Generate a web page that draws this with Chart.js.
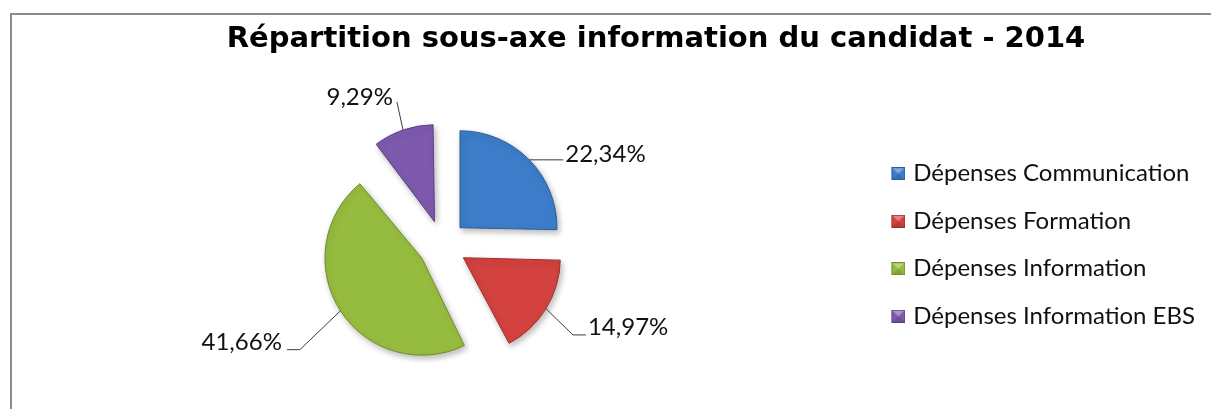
<!DOCTYPE html>
<html>
<head>
<meta charset="utf-8">
<script src="https://cdn.jsdelivr.net/npm/chart.js@4.4.1/dist/chart.umd.min.js"></script>
<style>
  html, body { margin: 0; padding: 0; background: #ffffff; overflow: hidden; width: 1211px; height: 409px; }
  #frame { position: absolute; left: 10px; top: 13px; width: 1300px; height: 500px;
           border-left: 2px solid #8c8c8c; border-top: 2px solid #8c8c8c; box-sizing: border-box; }
  #c { position: absolute; left: 0; top: 0; }
</style>
</head>
<body>
<div id="frame"></div>
<canvas id="c" width="1211" height="409"></canvas>
<script>
// ---- data ----
const titleText = 'Répartition sous-axe information du candidat - 2014';
const categories = ['Dépenses Communication', 'Dépenses Formation', 'Dépenses Information', 'Dépenses Information EBS'];
const values = [22.34, 14.97, 41.66, 9.29];
const valueLabels = ['22,34%', '14,97%', '41,66%', '9,29%'];

// ---- styles ----
const sliceColors = ['#3d7cc9', '#d4423f', '#96bc3f', '#7e5aae'];
const sliceBorders = ['#2d5e9c', '#9e2f2c', '#6f8d2c', '#5c4086'];
// leader label placement: elbow turn (deg), radial extension, horizontal leader, text gap, baseline shift
const labelLayout = [
  { turn: 0,   ext: 0,    h: 34, dx: 2, dy: 2 },
  { turn: 3.5, ext: 37,   h: 13, dx: 2, dy: 0 },
  { turn: -4,  ext: 55.5, h: 13, dx: 5, dy: 0 },
  { turn: 1.5, ext: 28.5, h: 0,  dx: 4, dy: 3 }
];
const labelFontSize = 24;
const labelFamily = 'Lato';
const legendPad = 23.5;

// ---- layout targets (page geometry of the reference) ----
const W = 1211;
const titleCenterX = 656, legendTextEndX = 1195, pieCenterX = 442.5;
const padRight = W - legendTextEndX - 10;
const padLeft = 2 * titleCenterX - (W - padRight);
const legendWidth = (W - padRight) - (2 * pieCenterX - padLeft);
const mctx = document.createElement('canvas').getContext('2d');
mctx.font = labelFontSize + 'px ' + labelFamily;
const maxTextW = Math.max(...categories.map(t => mctx.measureText(t).width));
const markerSlot = legendWidth - legendPad - labelFontSize / 2 - maxTextW - 10;

function makeMarker(fill, stroke, slot) {
  const c = document.createElement('canvas');
  const w = Math.max(16, Math.round(slot + 8));
  c.width = w; c.height = 13;
  const g = c.getContext('2d');
  const x0 = w - 14;
  g.fillStyle = fill;
  g.fillRect(x0, 0, 14, 13);
  g.fillStyle = 'rgba(255,255,255,0.35)';
  g.beginPath(); g.moveTo(x0, 0); g.lineTo(x0 + 14, 0); g.lineTo(x0 + 7, 6.5); g.closePath(); g.fill();
  g.fillStyle = 'rgba(0,0,0,0.12)';
  g.beginPath(); g.moveTo(x0, 13); g.lineTo(x0 + 14, 13); g.lineTo(x0 + 7, 6.5); g.closePath(); g.fill();
  g.strokeStyle = stroke; g.lineWidth = 1;
  g.strokeRect(x0 + 0.5, 0.5, 13, 12);
  return c;
}
const legendMarkers = sliceColors.map((c, i) => makeMarker(c, sliceBorders[i], markerSlot));

// keeps every exploded slice at the same drawn radius, and adds a soft shadow
const sliceShape = {
  id: 'sliceShape',
  beforeDatasetsDraw(chart) {
    const meta = chart.getDatasetMeta(0);
    const base = meta.controller.outerRadius;
    meta.data.forEach(arc => {
      const off = (arc.options.offset || 0) / 4;
      const fix = 1 - Math.sin(Math.min(Math.PI, arc.circumference || 0));
      arc.outerRadius = base - off * fix;
    });
    const ctx = chart.ctx;
    ctx.save();
    ctx.shadowColor = 'rgba(0,0,0,0.28)';
    ctx.shadowBlur = 6;
    ctx.shadowOffsetX = 2;
    ctx.shadowOffsetY = 3;
  },
  afterDatasetsDraw(chart) {
    chart.ctx.restore();
  }
};

const leaderLabels = {
  id: 'leaderLabels',
  afterDraw(chart) {
    const ctx = chart.ctx;
    const meta = chart.getDatasetMeta(0);
    const base = meta.controller.outerRadius;
    ctx.save();
    meta.data.forEach((arc, i) => {
      const off = (arc.options.offset || 0) / 4;
      const half = (arc.startAngle + arc.endAngle) / 2;
      const cx = arc.x + Math.cos(half) * off;
      const cy = arc.y + Math.sin(half) * off;
      const L = labelLayout[i];
      const b = half + L.turn * Math.PI / 180;
      const ax = cx + Math.cos(half) * base, ay = cy + Math.sin(half) * base;
      const ex = cx + Math.cos(b) * (base + L.ext), ey = cy + Math.sin(b) * (base + L.ext);
      const side = Math.cos(half) >= 0 ? 1 : -1;
      const hx = ex + side * L.h;
      ctx.strokeStyle = '#3c3c3c';
      ctx.lineWidth = 1;
      ctx.beginPath();
      ctx.moveTo(ax, ay);
      ctx.lineTo(ex, ey);
      ctx.lineTo(hx, ey);
      ctx.stroke();
      ctx.font = labelFontSize + 'px ' + labelFamily;
      ctx.fillStyle = '#111111';
      ctx.textBaseline = 'alphabetic';
      ctx.textAlign = side > 0 ? 'left' : 'right';
      ctx.fillText(valueLabels[i], hx + side * L.dx, ey + L.dy);
    });
    ctx.restore();
  }
};

new Chart(document.getElementById('c'), {
  type: 'pie',
  data: {
    labels: categories,
    datasets: [{
      data: values,
      backgroundColor: sliceColors,
      borderColor: sliceBorders,
      borderWidth: 1,
      offset: 98,
      radius: 97
    }]
  },
  options: {
    responsive: false,
    animation: false,
    events: [],
    layout: { padding: { left: padLeft, right: padRight, top: 0, bottom: 0 } },
    plugins: {
      title: {
        display: true,
        text: titleText,
        color: '#000000',
        font: { family: 'DejaVu Sans', size: 29, weight: 'bold', lineHeight: 1.2 },
        padding: { top: 22, bottom: 24 }
      },
      legend: {
        position: 'right',
        fullSize: false,
        labels: {
          color: '#111111',
          font: { family: labelFamily, size: labelFontSize },
          usePointStyle: true,
          pointStyleWidth: markerSlot,
          boxHeight: 13,
          padding: legendPad,
          generateLabels: () => categories.map((text, i) => ({
            text,
            fillStyle: sliceColors[i],
            strokeStyle: sliceBorders[i],
            lineWidth: 0,
            pointStyle: legendMarkers[i],
            fontColor: '#111111',
            hidden: false,
            index: i
          }))
        }
      },
      tooltip: { enabled: false }
    }
  },
  plugins: [sliceShape, leaderLabels]
});
</script>
</body>
</html>
